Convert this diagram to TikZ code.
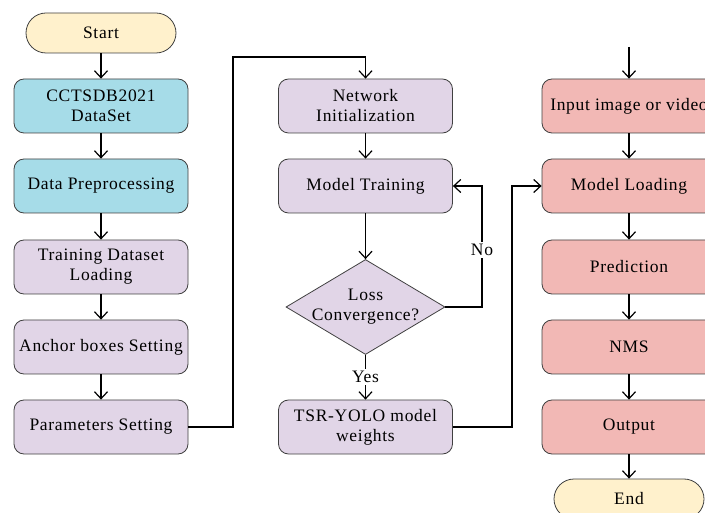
\documentclass[tikz,border=0pt]{standalone}
\usepackage{fontspec}
\setmainfont{Liberation Serif}[LetterSpace=4]
\usetikzlibrary{arrows.meta,shapes.geometric}

\definecolor{termc}{RGB}{255,241,204}
\definecolor{datac}{RGB}{166,220,232}
\definecolor{trainc}{RGB}{225,213,231}
\definecolor{inferc}{RGB}{242,184,181}
\definecolor{edgec}{RGB}{64,64,64}

\newcommand{\fs}{\fontsize{17.5}{20}\selectfont}

\begin{document}
\begin{tikzpicture}[x=1pt,y=-1pt,
  box/.style={draw=edgec, line width=0.8pt, rounded corners=10pt,
    minimum width=174pt, minimum height=54pt, align=center, font=\fs},
  term/.style={draw=edgec, line width=0.8pt, rounded corners=20pt,
    minimum width=150pt, minimum height=40pt, fill=termc, font=\fs},
  dec/.style={diamond, draw=edgec, line width=0.8pt, inner sep=0pt,
    minimum width=159pt, minimum height=95pt, fill=trainc},
  link/.style={line width=1.2pt, -{Straight Barb[length=7pt,width=13pt]}},
  tag/.style={fill=white, inner sep=2pt, font=\fs}]

\useasboundingbox (0,0) rectangle (705,513);
\clip (0,0) rectangle (705,513);

% first column: data preparation
\node[term] (start) at (101,33) {Start};
\node[box, fill=datac] (ds) at (101,106) {CCTSDB2021\\DataSet};
\node[box, fill=datac] (prep) at (101,186) {Data Preprocessing};
\node[box, fill=trainc] (load1) at (101,267) {Training Dataset\\Loading};
\node[box, fill=trainc] (anchor) at (101,347) {Anchor boxes Setting};
\node[box, fill=trainc] (param) at (101,427) {Parameters Setting};

% second column: training loop
\node[box, fill=trainc] (net) at (365.5,106) {Network\\Initialization};
\node[box, fill=trainc] (train) at (365.5,186) {Model Training};
\node[dec] (loss) at (365.5,307) {};
\node[align=center, font=\fs] at (loss) {Loss\\Convergence?};
\node[box, fill=trainc] (weights) at (365.5,427) {TSR-YOLO model\\weights};

% third column: inference
\coordinate (feed) at (629,47);
\node[box, fill=inferc] (input) at (629,106) {Input image or video};
\node[box, fill=inferc] (mload) at (629,186) {Model Loading};
\node[box, fill=inferc] (pred) at (629,267) {Prediction};
\node[box, fill=inferc] (nms) at (629,347) {NMS};
\node[box, fill=inferc] (out) at (629,427) {Output};
\node[term] (end) at (629,499) {End};

% routing points
\coordinate (up1) at (233,57);
\coordinate (noturn) at (482,307);
\coordinate (wturn) at (512,427);

\draw[link] (start) -- (ds);
\draw[link] (ds) -- (prep);
\draw[link] (prep) -- (load1);
\draw[link] (load1) -- (anchor);
\draw[link] (anchor) -- (param);
\draw[link] (param.east) -| (up1) -| (net.north);

\draw[link] (net) -- (train);
\draw[link] (train) -- (loss.north);
\draw[link] (loss.east) -- (noturn) |- (train.east);
\node[tag] (no) at (482,250) {No};
\draw[link] (loss.south) -- (weights.north) node[tag, midway] (yes) {Yes};
\draw[link] (weights.east) -- (wturn) |- (mload.west);

\draw[link] (feed) -- (input);
\draw[link] (input) -- (mload);
\draw[link] (mload) -- (pred);
\draw[link] (pred) -- (nms);
\draw[link] (nms) -- (out);
\draw[link] (out) -- (end);
\end{tikzpicture}
\end{document}
